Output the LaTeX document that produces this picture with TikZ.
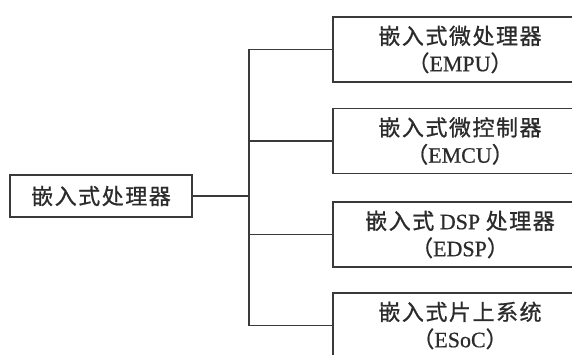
\documentclass[tikz,border=0pt]{standalone}
\usepackage{fontspec}
\setmainfont{Liberation Serif}[FakeBold=0.6]
\newfontfamily\cjk{Noto Sans CJK SC}[LetterSpace=7,FakeBold=0.8]
\definecolor{ink}{HTML}{2B2B2B}
\definecolor{lineink}{HTML}{3A3A3A}
\begin{document}
\begin{tikzpicture}[x=1pt,y=-1pt,
  box/.style={draw=lineink, line width=1.8pt, inner sep=0pt, align=center,
    text=ink, font=\fontsize{22}{27}\selectfont},
  leftbox/.style={box, minimum width=182pt, minimum height=42pt},
  rightbox/.style={box, minimum width=254pt, minimum height=65pt},
  conn/.style={draw=lineink, line width=1.3pt}]
\useasboundingbox (0,0) rectangle (572,355);
\fill[white] (0,0) rectangle (572,355);
\clip (0,0) rectangle (572,355);
\node[leftbox] (L) at (101,196) {{\cjk 嵌入式处理器}};
\node[rightbox] (b1) at (460,49.5) {{\cjk 嵌入式微处理器}\\{\cjk （}EMPU{\cjk ）}};
\node[rightbox] (b2) at (460,141) {{\cjk 嵌入式微控制器}\\{\cjk （}EMCU{\cjk ）}};
\node[rightbox] (b3) at (460,234.5) {{\cjk 嵌入式} DSP {\cjk 处理器}\\{\cjk （}EDSP{\cjk ）}};
\node[rightbox] (b4) at (460,325.5) {{\cjk 嵌入式片上系统}\\{\cjk （}ESoC{\cjk ）}};
\coordinate (J) at (249,196);
\draw[conn] (L.east) -- (J);
\draw[conn] (b1.west) -| (J) |- (b4.west);
\draw[conn] (J |- b2.west) -- (b2.west);
\draw[conn] (J |- b3.west) -- (b3.west);
\end{tikzpicture}
\end{document}
